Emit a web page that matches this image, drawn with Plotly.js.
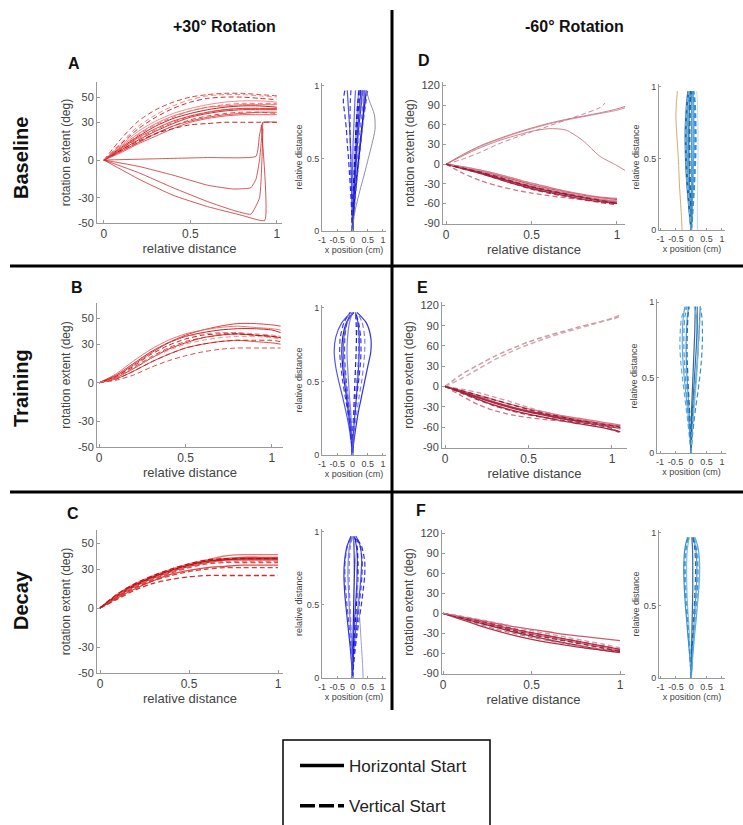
<!DOCTYPE html>
<html><head><meta charset="utf-8">
<script src="https://cdn.plot.ly/plotly-3.0.1.min.js"></script>
<style>html,body{margin:0;padding:0;background:#fff}#chart{width:743px;height:825px}</style>
</head><body><div id="chart"></div>
<script>
// ---------- DATA ----------
const columnTitles = ['+30° Rotation', '-60° Rotation'];
const rowTitles = ['Baseline', 'Training', 'Decay'];
const panelLetters = ['A', 'B', 'C', 'D', 'E', 'F'];
const legendNames = ['Horizontal Start', 'Vertical Start'];

const relDist11 = [0, 0.1, 0.2, 0.3, 0.4, 0.5, 0.6, 0.7, 0.8, 0.9, 1.0];
const relDist12 = [0, 0.1, 0.2, 0.3, 0.4, 0.5, 0.6, 0.7, 0.8, 0.9, 1.0, 1.05];
const sideDist = [0, 0.1, 0.2, 0.3, 0.4, 0.5, 0.6, 0.7, 0.8, 0.9, 0.97];

const ticksMainX = [0, 0.5, 1];
const ticksLeftY = [-50, -30, 0, 30, 50];
const ticksRightY = [-90, -60, -30, 0, 30, 60, 90, 120];
const ticksSideX = [-1, -0.5, 0, 0.5, 1];
const ticksSideY = [0, 0.5, 1];

// Panel A (Baseline, +30)
const A_horiz = [
  [0,9,18,25,31,35,38,40,41,41,41],
  [0,8,16,23,29,34,37,39,40,40,40],
  [0,11,21,29,35,39,42,43,44,44,44],
  [0,7,14,21,27,31,34,36,37,38,38],
  [0,10,19,27,33,37,40,42,43,43,42],
  [0,12,23,31,37,41,44,46,47,47,46],
  [0,6,13,19,25,30,33,35,36,36,36]
];
const A_vert = [
  [0,17,31,40,46,50,52,53,53,52,51],
  [0,13,25,34,41,46,49,50,50,49,48],
  [0,10,20,28,34,39,42,44,45,45,45],
  [0,7,14,21,27,32,35,37,38,38,37],
  [0,8,15,21,25,28,29,30,30,30,30],
  [0,14,27,36,43,48,51,52,52,51,50],
  [0,9,17,24,30,35,38,40,41,41,40]
];
const A_oddX = [
  [0,0.3,0.6,0.88,0.9,0.92,1.0],
  [0,0.2,0.4,0.6,0.75,0.85,0.88,0.9,0.92],
  [0,0.2,0.4,0.6,0.75,0.85,0.9,0.92],
  [0,0.2,0.4,0.6,0.8,0.93,0.91]
];
const A_oddY = [
  [0,1,2,3,20,30,30],
  [0,-5,-12,-20,-23,-22,-15,0,30],
  [0,-10,-22,-33,-40,-43,-30,25],
  [0,-15,-28,-37,-44,-48,28]
];

// Panel B (Training, +30)
const B_horiz = [
  [0,5,14,23,31,37,41,44,46,46,45,44],
  [0,4,11,19,26,31,35,37,38,37,36,35],
  [0,7,17,26,33,38,41,43,44,43,42,41],
  [0,3,9,16,22,27,30,32,33,32,31,30],
  [0,6,15,24,31,36,39,41,42,42,41,39]
];
const B_vert = [
  [0,4,12,20,27,32,35,37,38,37,36,35],
  [0,3,9,16,22,27,30,32,33,33,33,32],
  [0,6,15,24,31,36,38,39,39,38,37,36],
  [0,2,6,12,17,21,24,26,27,27,27,27],
  [0,5,13,22,29,34,37,38,38,37,36,35],
  [0,4,11,19,25,30,33,35,36,36,35,34]
];

// Panel C (Decay, +30)
const C_horiz = [
  [0,10,18,24,29,33,36,38,39,39,39],
  [0,9,17,23,28,32,35,37,38,38,38],
  [0,11,19,25,30,34,37,40,41,41,41],
  [0,8,15,21,26,29,31,32,33,33,33],
  [0,10,18,24,29,33,36,37,37,37,37]
];
const C_vert = [
  [0,9,16,21,25,28,30,31,31,31,31],
  [0,7,14,19,22,24,25,25,25,25,25],
  [0,10,17,23,28,32,35,36,36,36,36],
  [0,8,16,22,27,31,34,35,35,35,35],
  [0,11,19,25,30,34,37,38,38,38,38]
];

// Panel D (Baseline, -60)
const D_upSolid = [
  [0,15,28,38,47,55,62,68,73,78,84,88],
  [0,14,27,37,46,54,61,67,72,77,82,86],
  [0,13,25,35,43,50,54,52,36,12,-2,-10]
];
const D_upDashX = [0,0.1,0.2,0.3,0.4,0.5,0.6,0.7,0.8,0.9,0.93];
const D_upDash = [0,8,18,30,40,49,58,67,76,86,93];
const D_horiz = [
  [0,-6,-12,-20,-27,-34,-40,-45,-50,-54,-57],
  [0,-5,-10,-17,-24,-31,-37,-42,-47,-51,-54],
  [0,-7,-14,-22,-30,-37,-43,-48,-53,-57,-60],
  [0,-4,-9,-15,-22,-29,-35,-41,-46,-50,-52],
  [0,-6,-13,-21,-28,-35,-41,-46,-51,-56,-59],
  [0,-5,-11,-18,-26,-33,-39,-44,-49,-53,-56]
];
const D_vert = [
  [0,-14,-25,-33,-39,-44,-48,-51,-54,-56,-58],
  [0,-7,-14,-22,-30,-38,-44,-49,-54,-58,-62],
  [0,-4,-9,-15,-22,-29,-36,-42,-47,-52,-55],
  [0,-6,-12,-19,-27,-34,-40,-45,-50,-55,-60]
];

// Panel E (Training, -60)
const E_upDash = [
  [0,18,32,45,56,66,74,81,88,94,100,104],
  [0,12,26,40,52,62,71,79,86,93,101,106]
];
const E_horiz = [
  [0,-8,-17,-25,-32,-38,-43,-48,-52,-56,-60,-62],
  [0,-7,-15,-23,-30,-36,-41,-45,-49,-53,-57,-58],
  [0,-9,-19,-28,-35,-41,-46,-51,-55,-59,-64,-67],
  [0,-6,-13,-20,-27,-33,-38,-43,-47,-51,-55,-57],
  [0,-8,-16,-24,-31,-37,-42,-47,-51,-55,-59,-61]
];
const E_vert = [
  [0,-14,-27,-36,-42,-46,-49,-51,-53,-55,-58,-62],
  [0,-4,-9,-16,-23,-31,-38,-44,-49,-54,-59,-63],
  [0,-10,-20,-29,-36,-42,-46,-50,-53,-57,-62,-70],
  [0,-6,-13,-20,-27,-34,-40,-45,-50,-54,-58,-60]
];

// Panel F (Decay, -60)
const F_horiz = [
  [0,-6,-12,-18,-24,-29,-34,-39,-44,-49,-54],
  [0,-5,-10,-15,-20,-24,-28,-32,-35,-38,-41],
  [0,-7,-14,-21,-28,-34,-40,-45,-50,-55,-59],
  [0,-6,-13,-19,-25,-31,-36,-41,-46,-51,-56],
  [0,-9,-18,-26,-33,-39,-44,-48,-52,-55,-57]
];
const F_vert = [
  [0,-8,-16,-24,-30,-36,-41,-46,-50,-54,-58],
  [0,-5,-11,-17,-23,-29,-34,-39,-44,-49,-54],
  [0,-7,-14,-20,-26,-32,-37,-42,-47,-52,-57],
  [0,-4,-9,-14,-20,-26,-31,-36,-41,-46,-52]
];

// Side panels: x position (cm) at each relative distance in sideDist
const SA_horiz = [
  [0,0.02,0.04,0.07,0.1,0.13,0.16,0.2,0.25,0.3,0.32],
  [0,-0.01,-0.02,-0.03,-0.04,-0.05,-0.07,-0.09,-0.12,-0.15,-0.17],
  [0,0.03,0.06,0.1,0.15,0.2,0.25,0.3,0.36,0.42,0.45],
  [0,0.01,0.02,0.04,0.06,0.08,0.1,0.12,0.15,0.18,0.2],
  [0,0.01,0.03,0.05,0.08,0.11,0.14,0.17,0.21,0.25,0.28],
  [0,0,-0.01,-0.01,0,0.01,0.02,0.04,0.06,0.08,0.1],
  [0,0.03,0.07,0.11,0.16,0.21,0.26,0.31,0.35,0.38,0.38]
];
const SA_vert = [
  [0,-0.02,-0.04,-0.07,-0.1,-0.13,-0.17,-0.2,-0.25,-0.3,-0.25],
  [0,0.04,0.08,0.12,0.17,0.22,0.27,0.32,0.38,0.45,0.5],
  [0,0,0.01,0.03,0.05,0.07,0.09,0.11,0.14,0.18,0.22],
  [0,0.02,0.05,0.08,0.12,0.16,0.2,0.25,0.3,0.36,0.4],
  [0,-0.01,-0.02,-0.04,-0.05,-0.06,-0.07,-0.08,-0.08,-0.07,-0.05],
  [0,0.01,0.03,0.06,0.09,0.12,0.15,0.19,0.24,0.3,0.35],
  [0,0.02,0.04,0.06,0.08,0.1,0.12,0.15,0.18,0.22,0.26]
];
const SA_loop = [0,0.05,0.15,0.27,0.4,0.52,0.64,0.74,0.72,0.55,0.45];
const SB_horiz = [
  [0,0.05,0.12,0.2,0.3,0.4,0.5,0.6,0.6,0.45,0.15],
  [0,-0.05,-0.12,-0.22,-0.33,-0.45,-0.55,-0.6,-0.55,-0.35,-0.05],
  [0,-0.03,-0.08,-0.14,-0.2,-0.27,-0.32,-0.35,-0.32,-0.2,0.05],
  [0,-0.01,-0.03,-0.06,-0.1,-0.13,-0.16,-0.18,-0.16,-0.1,0],
  [0,0.02,0.05,0.09,0.13,0.17,0.2,0.22,0.22,0.18,0.1],
  [0,-0.02,-0.06,-0.11,-0.17,-0.23,-0.28,-0.3,-0.28,-0.18,0]
];
const SB_vert = [
  [0,0.02,0.05,0.09,0.14,0.2,0.25,0.28,0.27,0.2,0.1],
  [0,-0.02,-0.05,-0.1,-0.15,-0.2,-0.24,-0.26,-0.25,-0.18,-0.05],
  [0,0,0.02,0.04,0.06,0.08,0.1,0.12,0.13,0.12,0.1],
  [0,0.03,0.08,0.15,0.22,0.3,0.36,0.4,0.4,0.32,0.15],
  [0,-0.04,-0.09,-0.16,-0.24,-0.32,-0.38,-0.42,-0.4,-0.28,-0.08],
  [0,0.01,0.03,0.06,0.1,0.14,0.18,0.2,0.2,0.15,0.08]
];
const SC_horiz = [
  [0,-0.03,-0.07,-0.12,-0.17,-0.22,-0.26,-0.28,-0.26,-0.18,-0.05],
  [0,0.02,0.05,0.09,0.14,0.19,0.24,0.28,0.3,0.26,0.12],
  [0,0,0.01,0.02,0.03,0.04,0.05,0.06,0.06,0.05,0.02],
  [0,-0.01,-0.03,-0.05,-0.08,-0.11,-0.13,-0.15,-0.14,-0.1,-0.02],
  [0,0.01,0.02,0.04,0.07,0.1,0.13,0.15,0.16,0.13,0.06]
];
const SC_vert = [
  [0,0.04,0.09,0.15,0.22,0.29,0.35,0.4,0.4,0.3,0.1],
  [0,-0.02,-0.05,-0.09,-0.13,-0.18,-0.22,-0.25,-0.24,-0.17,-0.03],
  [0,0.01,0.03,0.06,0.1,0.13,0.16,0.18,0.18,0.15,0.07],
  [0,-0.01,-0.02,-0.04,-0.06,-0.08,-0.1,-0.11,-0.1,-0.07,0],
  [0,0.03,0.07,0.12,0.17,0.22,0.27,0.31,0.32,0.25,0.08]
];
const SC_stray = [0.35,0.33,0.3,0.27,0.24,0.2,0.17,0.14,0.1,0.06,0.02];
const SD_horiz = [
  [0,-0.02,-0.04,-0.06,-0.07,-0.08,-0.08,-0.08,-0.07,-0.05,-0.03],
  [0,0.02,0.03,0.05,0.06,0.07,0.08,0.08,0.08,0.07,0.05],
  [0,-0.05,-0.09,-0.13,-0.16,-0.18,-0.19,-0.19,-0.17,-0.14,-0.1],
  [0,-0.03,-0.06,-0.09,-0.11,-0.12,-0.13,-0.13,-0.12,-0.1,-0.07],
  [0,0.01,0.01,0.02,0.02,0.02,0.02,0.02,0.02,0.02,0.01],
  [0,-0.04,-0.08,-0.11,-0.14,-0.16,-0.17,-0.17,-0.15,-0.12,-0.08]
];
const SD_vert = [
  [0,0.04,0.07,0.1,0.12,0.14,0.15,0.15,0.14,0.12,0.08],
  [0,-0.03,-0.06,-0.09,-0.11,-0.13,-0.14,-0.14,-0.12,-0.08,-0.04],
  [0,-0.01,-0.02,-0.03,-0.04,-0.05,-0.05,-0.05,-0.04,-0.03,-0.01],
  [0,-0.04,-0.08,-0.12,-0.15,-0.17,-0.18,-0.18,-0.16,-0.13,-0.08],
  [0,0.02,0.05,0.08,0.1,0.11,0.12,0.12,0.11,0.09,0.06]
];
const SD_stray = [-0.3,-0.32,-0.35,-0.38,-0.4,-0.42,-0.45,-0.48,-0.5,-0.48,-0.45];
const SD_stray2 = [0.2,0.2,0.2,0.21,0.21,0.22,0.22,0.22,0.21,0.2,0.18];
const SE_horiz = [
  [0,0.02,0.05,0.08,0.12,0.16,0.2,0.23,0.26,0.28,0.3],
  [0,-0.03,-0.07,-0.12,-0.17,-0.22,-0.26,-0.28,-0.28,-0.25,-0.2],
  [0,0,0.01,0.02,0.04,0.06,0.08,0.1,0.12,0.13,0.14],
  [0,0.03,0.06,0.1,0.14,0.18,0.21,0.23,0.22,0.18,0.1],
  [0,-0.02,-0.04,-0.07,-0.1,-0.13,-0.15,-0.16,-0.15,-0.12,-0.08],
  [0,0.01,0.03,0.05,0.08,0.11,0.14,0.17,0.19,0.2,0.2]
];
const SE_vert = [
  [0,0.04,0.09,0.15,0.22,0.28,0.33,0.36,0.37,0.35,0.3],
  [0,-0.05,-0.1,-0.16,-0.22,-0.28,-0.33,-0.36,-0.35,-0.3,-0.15],
  [0,-0.01,-0.03,-0.05,-0.08,-0.1,-0.12,-0.13,-0.12,-0.1,-0.06],
  [0,0.02,0.05,0.08,0.12,0.16,0.2,0.24,0.27,0.29,0.3],
  [0,-0.03,-0.06,-0.1,-0.14,-0.18,-0.21,-0.23,-0.23,-0.2,-0.12]
];
const SF_horiz = [
  [0,-0.03,-0.07,-0.11,-0.15,-0.19,-0.22,-0.24,-0.24,-0.2,-0.12],
  [0,0.03,0.07,0.11,0.16,0.2,0.24,0.27,0.27,0.22,0.12],
  [0,0,0.01,0.02,0.03,0.04,0.05,0.05,0.05,0.04,0.02],
  [0,-0.02,-0.04,-0.06,-0.09,-0.12,-0.14,-0.15,-0.15,-0.12,-0.06],
  [0,0.02,0.04,0.07,0.1,0.13,0.16,0.18,0.18,0.14,0.07]
];
const SF_vert = [
  [0,0.02,0.05,0.09,0.13,0.17,0.2,0.22,0.21,0.16,0.08],
  [0,-0.02,-0.05,-0.08,-0.11,-0.14,-0.17,-0.19,-0.19,-0.15,-0.08],
  [0,0.01,0.03,0.05,0.07,0.1,0.12,0.14,0.14,0.11,0.05],
  [0,0.03,0.06,0.1,0.14,0.19,0.23,0.26,0.26,0.2,0.1],
  [0,-0.03,-0.06,-0.1,-0.13,-0.17,-0.2,-0.22,-0.22,-0.17,-0.1]
];

// ---------- STYLE / LAYOUT ----------
const W = 743, H = 825;
const px = p => p / W, py = p => 1 - p / H;
const FONT = 'Arial, "Liberation Sans", sans-serif';
const redPal = ['#e02828', '#c81818', '#f06464', '#d83838', '#b01010', '#f08080', '#e84848'];
const roseRed = ['#b82040', '#c84860', '#8a1830', '#d06878', '#a02038', '#d88898'];
const bluePal = ['#1c1cdc', '#4040f0', '#0a0aa8', '#7070f0', '#2a2ae8', '#5858ec', '#1010c0'];
const cyanPal = ['#2a7fc0', '#4aa0dc', '#1a5a98', '#74b8e4', '#3590d0', '#205f9c'];
const DASH = '5px,3px';

const traces = [];
function curves(xa, ya, xs, list, pal, dash, opts) {
  opts = opts || {};
  list.forEach((ys, i) => traces.push({
    type: 'scatter', mode: 'lines', x: xs, y: ys, xaxis: xa, yaxis: ya,
    line: {color: pal[i % pal.length], width: opts.width || 1, dash: dash, shape: opts.shape || 'spline', smoothing: 0.7},
    opacity: opts.opacity || 0.9, showlegend: false, hoverinfo: 'skip'
  }));
}
function sideCurves(xa, ya, list, pal, dash, opts) {
  opts = opts || {};
  list.forEach((xs, i) => traces.push({
    type: 'scatter', mode: 'lines', x: xs, y: sideDist, xaxis: xa, yaxis: ya,
    line: {color: pal[i % pal.length], width: opts.width || 1.2, dash: dash, shape: 'spline', smoothing: 0.7},
    opacity: opts.opacity || 0.9, showlegend: false, hoverinfo: 'skip'
  }));
}

// A
curves('x', 'y', relDist11, A_horiz, redPal, 'solid');
curves('x', 'y', relDist11, A_vert, redPal, DASH);
A_oddY.forEach((ys, i) => traces.push({type:'scatter', mode:'lines', x: A_oddX[i], y: ys, xaxis:'x', yaxis:'y',
  line:{color:'#c83030', width:1, shape:'spline', smoothing:0.4}, opacity:0.8, showlegend:false, hoverinfo:'skip'}));
sideCurves('x2', 'y2', SA_horiz, bluePal, 'solid');
sideCurves('x2', 'y2', SA_vert, bluePal, DASH);
sideCurves('x2', 'y2', [SA_loop], ['#8080a8'], 'solid', {width: 1});
// B
curves('x3', 'y3', relDist12, B_horiz, redPal, 'solid');
curves('x3', 'y3', relDist12, B_vert, redPal, DASH);
sideCurves('x4', 'y4', SB_horiz, bluePal, 'solid');
sideCurves('x4', 'y4', SB_vert, bluePal, DASH);
// C
curves('x5', 'y5', relDist11, C_horiz, redPal, 'solid', {width: 1.3});
curves('x5', 'y5', relDist11, C_vert, redPal, DASH, {width: 1.3});
sideCurves('x6', 'y6', SC_horiz, bluePal, 'solid');
sideCurves('x6', 'y6', SC_vert, bluePal, DASH);
sideCurves('x6', 'y6', [SC_stray], ['#9090d0'], 'solid', {width: 1});
// D
curves('x7', 'y7', relDist12, D_upSolid, ['#c06070', '#d08090', '#c87080'], 'solid', {opacity: 0.85});
curves('x7', 'y7', D_upDashX, [D_upDash], ['#c87080'], DASH, {opacity: 0.85});
curves('x7', 'y7', relDist11, D_horiz, roseRed, 'solid', {width: 1.3});
curves('x7', 'y7', relDist11, D_vert, ['#c86878', '#b02040', '#d88898', '#8a1830'], DASH, {width: 1.3});
sideCurves('x8', 'y8', SD_horiz, cyanPal, 'solid', {width: 1.6});
sideCurves('x8', 'y8', SD_vert, cyanPal, DASH, {width: 1.6});
sideCurves('x8', 'y8', [SD_stray], ['#d0a060'], 'solid', {width: 1});
sideCurves('x8', 'y8', [SD_stray2], ['#b8d4e8'], 'solid', {width: 1});
// E
curves('x9', 'y9', relDist12, E_upDash, ['#c89098', '#d0a0a8'], DASH, {width: 1.5});
curves('x9', 'y9', relDist12, E_horiz, roseRed, 'solid', {width: 1.3});
curves('x9', 'y9', relDist12, E_vert, ['#c86878', '#d88898', '#b02040', '#8a1830'], DASH, {width: 1.3});
sideCurves('x10', 'y10', SE_horiz, cyanPal, 'solid');
sideCurves('x10', 'y10', SE_vert, cyanPal, DASH);
// F
curves('x11', 'y11', relDist11, F_horiz, roseRed, 'solid', {width: 1.3});
curves('x11', 'y11', relDist11, F_vert, ['#c86878', '#b02040', '#8a1830', '#d88898'], DASH, {width: 1.3});
sideCurves('x12', 'y12', SF_horiz, cyanPal, 'solid');
sideCurves('x12', 'y12', SF_vert, cyanPal, DASH);

// legend traces
traces.push({type:'scatter', mode:'lines', x:[null], y:[null], xaxis:'x', yaxis:'y', name: legendNames[0],
  legendgroup:'h', line:{color:'#000', width:3.5}, hoverinfo:'skip'});
traces.push({type:'scatter', mode:'lines', x:[null], y:[null], xaxis:'x', yaxis:'y', name: legendNames[1],
  legendgroup:'v', line:{color:'#000', width:3.5, dash:'15px,4px'}, hoverinfo:'skip'});

const AX = '#9a9a9a', TXT = '#444';
function mainX(l, r, range, anchor) {
  return {domain:[px(l), px(r)], range: range, anchor: anchor, showline:true, linecolor:AX, linewidth:1,
    ticks:'inside', ticklen:3, tickcolor:AX, tickvals: ticksMainX, ticktext: ticksMainX.map(String),
    tickfont:{size:12, color:TXT, family:FONT}, showgrid:false, zeroline:false, fixedrange:true,
    title:{text:'relative distance', font:{size:13, color:TXT, family:FONT}, standoff:3}};
}
function mainY(top, bot, range, anchor, tv) {
  return {domain:[py(bot), py(top)], range: range, anchor: anchor, showline:true, linecolor:AX, linewidth:1,
    ticks:'inside', ticklen:3, tickcolor:AX, tickvals: tv, ticktext: tv.map(String),
    tickfont:{size:11, color:TXT, family:FONT}, showgrid:false, zeroline:false, fixedrange:true,
    title:{text:'rotation extent (deg)', font:{size:12, color:TXT, family:FONT}, standoff:4}};
}
function sideX(l, r, range, anchor) {
  return {domain:[px(l), px(r)], range: range, anchor: anchor, showline:true, linecolor:AX, linewidth:1,
    ticks:'inside', ticklen:2, tickcolor:AX, tickvals: ticksSideX, ticktext: ticksSideX.map(String),
    tickfont:{size:9, color:TXT, family:FONT}, showgrid:false, zeroline:false, fixedrange:true,
    title:{text:'x position (cm)', font:{size:9, color:TXT, family:FONT}, standoff:2}};
}
function sideY(top, bot, range, anchor) {
  return {domain:[py(bot), py(top)], range: range, anchor: anchor, showline:true, linecolor:AX, linewidth:1,
    ticks:'inside', ticklen:2, tickcolor:AX, tickvals: ticksSideY, ticktext: ticksSideY.map(String),
    tickfont:{size:9, color:TXT, family:FONT}, showgrid:false, zeroline:false, fixedrange:true,
    title:{text:'relative distance', font:{size:9, color:TXT, family:FONT}, standoff:2}};
}

const layout = {
  width: W, height: H, margin:{l:0, r:0, t:0, b:0}, paper_bgcolor:'#fff', plot_bgcolor:'rgba(0,0,0,0)',
  font:{family:FONT}, hovermode:false, showlegend:true,
  legend:{x:px(295), y:py(748), xanchor:'left', yanchor:'top', bgcolor:'rgba(0,0,0,0)', borderwidth:0,
    font:{size:17, color:'#222', family:FONT}, itemwidth:44, traceorder:'grouped', tracegroupgap:15},
  // A
  xaxis: mainX(97, 282, [-0.04, 1.03], 'y'),
  yaxis: mainY(82, 223, [-50, 62], 'x', ticksLeftY),
  xaxis2: sideX(322, 386, [-1, 1.1], 'y2'),
  yaxis2: sideY(83, 231, [0, 1.02], 'x2'),
  // B
  xaxis3: mainX(97, 283, [-0.012, 1.064], 'y3'),
  yaxis3: mainY(303, 447, [-50, 62], 'x3', ticksLeftY),
  xaxis4: sideX(322, 386, [-1, 1.1], 'y4'),
  yaxis4: sideY(305, 455, [0, 1.02], 'x4'),
  // C
  xaxis5: mainX(97, 283, [-0.017, 1.028], 'y5'),
  yaxis5: mainY(530, 673, [-50, 60], 'x5', ticksLeftY),
  xaxis6: sideX(322, 386, [-1, 1.1], 'y6'),
  yaxis6: sideY(529, 678, [0, 1.02], 'x6'),
  // D
  xaxis7: mainX(443, 625, [-0.018, 1.047], 'y7'),
  yaxis7: mainY(82, 224, [-91, 125], 'x7', ticksRightY),
  xaxis8: sideX(659, 725, [-1.05, 1.1], 'y8'),
  yaxis8: sideY(84, 230, [0, 1.02], 'x8'),
  // E
  xaxis9: mainX(442, 627, [-0.018, 1.09], 'y9'),
  yaxis9: mainY(302, 448, [-91, 125], 'x9', ticksRightY),
  xaxis10: sideX(657, 726, [-1.1, 1.13], 'y10'),
  yaxis10: sideY(299, 453, [0, 1.02], 'x10'),
  // F
  xaxis11: mainX(442, 625, [-0.006, 1.028], 'y11'),
  yaxis11: mainY(530, 674, [-91, 125], 'x11', ticksRightY),
  xaxis12: sideX(659, 725, [-1.05, 1.1], 'y12'),
  yaxis12: sideY(530, 678, [0, 1.02], 'x12'),
  shapes: [
    {type:'line', xref:'paper', yref:'paper', x0:px(10), x1:px(743), y0:py(266), y1:py(266), line:{color:'#000', width:3}},
    {type:'line', xref:'paper', yref:'paper', x0:px(10), x1:px(743), y0:py(492), y1:py(492), line:{color:'#000', width:3}},
    {type:'line', xref:'paper', yref:'paper', x0:px(392), x1:px(392), y0:py(10), y1:py(710), line:{color:'#000', width:3}},
    {type:'rect', xref:'paper', yref:'paper', x0:px(283), x1:px(490), y0:py(740), y1:py(830), line:{color:'#000', width:1.5}}
  ],
  annotations: []
};

const ann = layout.annotations;
function note(text, x, y, size, angle) {
  ann.push({text: '<b>' + text + '</b>', x: px(x), y: py(y), xref:'paper', yref:'paper', xanchor:'center', yanchor:'middle',
    showarrow:false, textangle: angle || 0, font:{size: size, color:'#111', family: FONT}});
}
note(columnTitles[0], 224, 27, 16);
note(columnTitles[1], 574, 27, 16);
[158, 388, 600].forEach((c, i) => note(rowTitles[i], 21, c, 20, -90));
[[74, 63], [77, 287], [73, 513], [424, 60], [422, 287], [421, 510]].forEach((p, i) => note(panelLetters[i], p[0], p[1], 16));

Plotly.newPlot('chart', traces, layout, {staticPlot:true, displayModeBar:false});
</script></body></html>
